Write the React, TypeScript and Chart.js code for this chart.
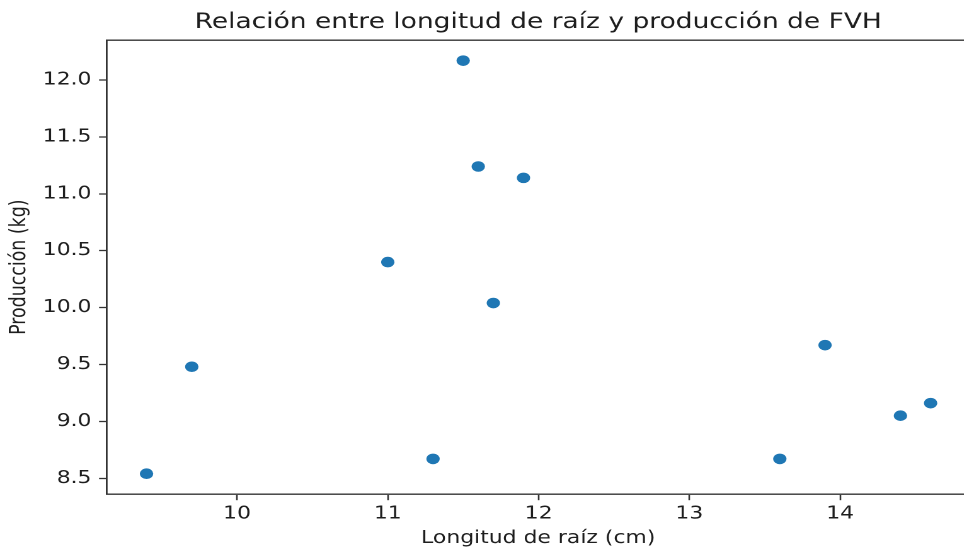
import React, { useEffect, useRef } from "react";
import { Chart, registerables } from "chart.js";

Chart.register(...registerables);

const titleText = "Relación entre longitud de raíz y producción de FVH";
const xLabel = "Longitud de raíz (cm)";
const yLabel = "Producción (kg)";

const rootLength = [9.4, 9.7, 11.0, 11.3, 11.5, 11.6, 11.7, 11.9, 13.6, 13.9, 14.4, 14.6];
const production = [8.54, 9.48, 10.4, 8.67, 12.17, 11.24, 10.04, 11.14, 8.67, 9.67, 9.05, 9.16];

const xTicks = [10, 11, 12, 13, 14];
const yTicks = [8.5, 9.0, 9.5, 10.0, 10.5, 11.0, 11.5, 12.0];

const xRange = [9.135, 14.86];
const yRange = [8.36, 12.35];

const STRETCH = 1.26;
const W = 775;
const H = 547;
const FONT = "'DejaVu Sans', sans-serif";
const TEXT = "#1e1e1e";
const LINE = "#333333";

export default function App() {
  const ref = useRef<HTMLCanvasElement | null>(null);

  useEffect(() => {
    if (!ref.current) return;
    const chart = new Chart(ref.current, {
      type: "scatter",
      data: {
        datasets: [
          {
            data: rootLength.map((x, i) => ({ x, y: production[i] })),
            backgroundColor: "#1f77b4",
            borderColor: "#1f77b4",
            borderWidth: 0,
            pointRadius: 5.3,
            pointHoverRadius: 5.3,
          },
        ],
      },
      options: {
        responsive: false,
        animation: false,
        devicePixelRatio: 2,
        layout: { padding: { left: 0, right: 2, top: 0, bottom: 0 } },
        plugins: {
          legend: { display: false },
          tooltip: { enabled: false },
          title: {
            display: true,
            fullSize: false,
            text: titleText,
            color: TEXT,
            font: { family: FONT, size: 21, weight: "normal", lineHeight: 1.2 },
            padding: { top: 10, bottom: 5 },
          },
        },
        scales: {
          x: {
            type: "linear",
            position: "bottom",
            min: xRange[0],
            max: xRange[1],
            afterBuildTicks: (scale: any) => {
              scale.ticks = xTicks.map((v) => ({ value: v }));
            },
            ticks: {
              color: TEXT,
              font: { family: FONT, size: 17.4, lineHeight: 1.0 },
              padding: 5,
              maxRotation: 0,
              autoSkip: false,
              callback: (v: any) => String(v),
            },
            grid: {
              display: true,
              drawOnChartArea: false,
              drawTicks: true,
              tickLength: 6,
              tickColor: LINE,
              tickWidth: 1.3,
            },
            border: { display: true, color: LINE, width: 1.4 },
            title: {
              display: true,
              text: xLabel,
              color: TEXT,
              font: { family: FONT, size: 17.4, lineHeight: 1.0 },
              padding: { top: 2, bottom: 0 },
            },
          },
          xTop: {
            type: "linear",
            position: "top",
            min: xRange[0],
            max: xRange[1],
            ticks: { display: false },
            grid: { display: false, drawTicks: false },
            border: { display: true, color: LINE, width: 1.4 },
          },
          y: {
            type: "linear",
            position: "left",
            min: yRange[0],
            max: yRange[1],
            afterBuildTicks: (scale: any) => {
              scale.ticks = yTicks.map((v) => ({ value: v }));
            },
            ticks: {
              color: TEXT,
              font: { family: FONT, size: 17.4, lineHeight: 1.0 },
              padding: 6,
              autoSkip: false,
              callback: (v: any) => Number(v).toFixed(1),
            },
            grid: {
              display: true,
              drawOnChartArea: false,
              drawTicks: true,
              tickLength: 6,
              tickColor: LINE,
              tickWidth: 1.3,
            },
            border: { display: true, color: LINE, width: 1.4 },
            title: {
              display: true,
              text: yLabel,
              color: TEXT,
              font: { family: FONT, size: 17.4, lineHeight: 1.2 },
              padding: { top: 5, bottom: 2 },
            },
          },
        },
      },
    });
    return () => chart.destroy();
  }, []);

  return (
    <div
      style={{
        position: "fixed",
        left: 0,
        top: 0,
        width: 964,
        height: 547,
        overflow: "hidden",
        background: "#ffffff",
      }}
    >
      <div
        style={{
          width: W,
          height: H,
          transform: `scaleX(${STRETCH})`,
          transformOrigin: "0 0",
        }}
      >
        <canvas ref={ref} width={W} height={H} style={{ display: "block", width: W, height: H }} />
      </div>
    </div>
  );
}
